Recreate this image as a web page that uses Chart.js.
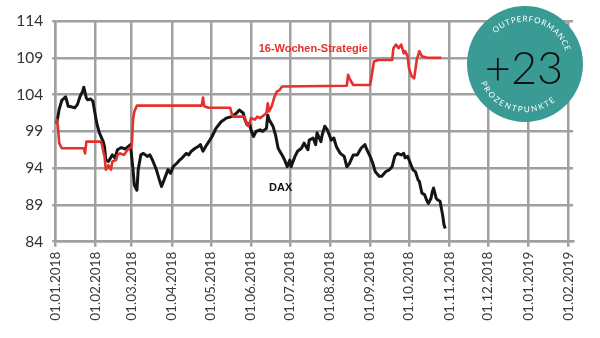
<!DOCTYPE html>
<html>
<head>
<meta charset="utf-8">
<script src="https://cdn.jsdelivr.net/npm/chart.js@4/dist/chart.umd.min.js"></script>
<style>
html,body{margin:0;padding:0;background:#fff;}
#wrap{width:600px;height:338px;position:relative;}
</style>
</head>
<body>
<div id="wrap"><canvas id="c" width="600" height="338"></canvas></div>
<script>
// ---- data ----
const baseDate = '2018-01-01';
const tickDates = ['2018-01-01','2018-02-01','2018-03-01','2018-04-01','2018-05-01','2018-06-01','2018-07-01','2018-08-01','2018-09-01','2018-10-01','2018-11-01','2018-12-01','2019-01-01','2019-02-01'];
const tickLabels = ['01.01.2018','01.02.2018','01.03.2018','01.04.2018','01.05.2018','01.06.2018','01.07.2018','01.08.2018','01.09.2018','01.10.2018','01.11.2018','01.12.2018','01.01.2019','01.02.2019'];
const yTicks = [84, 89, 94, 99, 104, 109, 114];

const daxDates = ['2018-01-02','2018-01-04','2018-01-06','2018-01-09','2018-01-11','2018-01-14','2018-01-16','2018-01-18','2018-01-20','2018-01-22','2018-01-23','2018-01-25','2018-01-26','2018-01-28','2018-01-30','2018-02-02','2018-02-04','2018-02-07','2018-02-08','2018-02-09','2018-02-11','2018-02-14','2018-02-16','2018-02-18','2018-02-21','2018-02-24','2018-02-26','2018-02-28','2018-03-02','2018-03-03','2018-03-05','2018-03-06','2018-03-08','2018-03-10','2018-03-13','2018-03-15','2018-03-17','2018-03-20','2018-03-22','2018-03-24','2018-03-26','2018-03-29','2018-03-31','2018-04-02','2018-04-05','2018-04-07','2018-04-09','2018-04-12','2018-04-14','2018-04-16','2018-04-19','2018-04-21','2018-04-23','2018-04-25','2018-04-28','2018-05-02','2018-05-05','2018-05-09','2018-05-13','2018-05-17','2018-05-21','2018-05-23','2018-05-26','2018-05-27','2018-05-29','2018-05-31','2018-06-01','2018-06-03','2018-06-05','2018-06-08','2018-06-10','2018-06-13','2018-06-14','2018-06-15','2018-06-18','2018-06-20','2018-06-22','2018-06-25','2018-06-27','2018-06-29','2018-07-01','2018-07-02','2018-07-05','2018-07-07','2018-07-10','2018-07-12','2018-07-15','2018-07-16','2018-07-19','2018-07-21','2018-07-22','2018-07-25','2018-07-26','2018-07-28','2018-07-30','2018-08-02','2018-08-04','2018-08-06','2018-08-09','2018-08-12','2018-08-14','2018-08-16','2018-08-19','2018-08-22','2018-08-25','2018-08-28','2018-08-29','2018-09-01','2018-09-03','2018-09-05','2018-09-08','2018-09-10','2018-09-13','2018-09-16','2018-09-18','2018-09-20','2018-09-22','2018-09-25','2018-09-27','2018-09-28','2018-09-30','2018-10-02','2018-10-04','2018-10-06','2018-10-08','2018-10-09','2018-10-11','2018-10-13','2018-10-15','2018-10-16','2018-10-18','2018-10-19','2018-10-20','2018-10-22','2018-10-23','2018-10-25','2018-10-26','2018-10-27','2018-10-28','2018-10-29'];
const daxValues = [100.0,102.0,103.2,103.7,102.4,102.3,102.2,102.6,103.7,104.4,105.0,103.5,103.3,103.4,103.1,100.1,98.8,97.6,96.9,95.1,94.9,95.8,95.4,96.5,96.8,96.6,96.9,97.2,93.8,91.7,91.0,93.8,95.8,96.0,95.6,95.8,95.1,93.8,92.6,91.5,92.4,93.8,93.3,94.2,94.7,95.1,95.4,96.0,95.8,96.3,96.7,96.9,97.2,96.3,97.2,98.3,99.4,100.3,100.8,101.0,101.5,101.9,101.5,100.8,99.9,100.1,99.2,98.3,99.0,99.2,99.0,99.4,101.2,100.6,99.7,98.5,96.7,95.8,95.1,94.2,95.1,94.2,95.6,96.3,96.7,97.4,96.5,97.8,98.1,97.2,98.8,97.6,98.5,99.7,99.2,97.8,98.1,96.9,96.0,95.6,94.2,94.6,95.8,95.8,96.7,97.2,96.7,95.6,94.7,93.5,92.9,92.9,93.5,93.8,94.2,95.6,96.0,95.8,96.0,95.4,95.6,94.7,93.8,93.5,92.4,92.2,90.6,90.4,89.5,89.2,89.9,90.8,91.3,89.9,89.7,89.5,88.5,87.6,86.3,85.8];

const stratDates = ['2018-01-01','2018-01-02','2018-01-03','2018-01-04','2018-01-06','2018-01-23','2018-01-24','2018-01-25','2018-02-05','2018-02-06','2018-02-07','2018-02-08','2018-02-09','2018-02-10','2018-02-11','2018-02-13','2018-02-14','2018-02-17','2018-02-18','2018-02-20','2018-02-23','2018-02-25','2018-02-27','2018-03-01','2018-03-02','2018-03-03','2018-03-05','2018-04-24','2018-04-25','2018-04-26','2018-04-29','2018-05-16','2018-05-17','2018-05-18','2018-05-27','2018-05-29','2018-05-30','2018-05-31','2018-06-01','2018-06-04','2018-06-06','2018-06-08','2018-06-11','2018-06-13','2018-06-14','2018-06-15','2018-06-17','2018-06-19','2018-06-21','2018-06-23','2018-06-25','2018-08-14','2018-08-15','2018-08-16','2018-08-19','2018-09-01','2018-09-04','2018-09-07','2018-09-18','2018-09-19','2018-09-21','2018-09-23','2018-09-25','2018-09-27','2018-09-28','2018-09-30','2018-10-01','2018-10-03','2018-10-05','2018-10-07','2018-10-09','2018-10-11','2018-10-15','2018-10-26'];
const stratValues = [100.3,100.6,99.7,97.4,96.7,96.7,96.0,97.6,97.6,97.2,96.3,95.6,93.8,94.0,94.4,93.8,94.9,95.1,95.8,96.0,95.8,96.3,96.7,96.9,100.6,101.7,102.5,102.5,103.6,102.4,102.2,102.2,101.5,101.0,101.0,99.9,99.7,100.1,100.8,100.6,101.0,100.8,101.2,101.5,102.8,101.7,102.4,103.6,104.4,104.6,105.1,105.2,106.7,106.2,105.3,105.3,108.5,108.7,108.7,110.3,110.8,110.3,110.8,109.6,109.9,109.2,107.6,106.5,106.2,108.7,109.9,109.2,109.0,109.0];

const seriesLabels = ['16-Wochen-Strategie', 'DAX'];
const seriesLabelDates = ['2018-06-07', '2018-06-15'];
const seriesLabelValues = [110.2, 91.3];
const badgeTop = 'OUTPERFORMANCE';
const badgeValue = '+23';
const badgeBottom = 'PROZENTPUNKTE';

// ---- helpers ----
function dayOf(s) {
  const p = s.split('-').map(Number);
  const b = baseDate.split('-').map(Number);
  return (Date.UTC(p[0], p[1]-1, p[2]) - Date.UTC(b[0], b[1]-1, b[2])) / 86400000;
}
const tickDays = tickDates.map(dayOf);
const daxPts = daxDates.map((d, i) => ({x: dayOf(d), y: daxValues[i]}));
const stratPts = stratDates.map((d, i) => ({x: dayOf(d), y: stratValues[i]}));

const RED = '#e6302c';
const GRID = '#a0a0a0';

const labelPlugin = {
  id: 'labels',
  afterDatasetsDraw(chart) {
    const ctx = chart.ctx, xs = chart.scales.x, ys = chart.scales.y;
    ctx.save();
    ctx.textBaseline = 'middle';
    ctx.textAlign = 'left';
    const colors = [RED, '#111'];
    seriesLabels.forEach((t, i) => {
      ctx.fillStyle = colors[i];
      ctx.font = 'bold 11px "Liberation Sans", Arial, sans-serif';
      ctx.fillText(t, xs.getPixelForValue(dayOf(seriesLabelDates[i])), ys.getPixelForValue(seriesLabelValues[i]));
    });
    ctx.restore();
  },
  afterDraw(chart) {
    const ctx = chart.ctx;
    const cx = 525, cy = 64, r = 58;
    ctx.save();
    ctx.beginPath();
    ctx.arc(cx, cy, r, 0, Math.PI * 2);
    ctx.fillStyle = '#3a9b94';
    ctx.fill();
    // value
    ctx.fillStyle = '#111';
    ctx.font = '300 45px Lato, sans-serif';
    ctx.textAlign = 'center';
    ctx.textBaseline = 'middle';
    ctx.fillText(badgeValue, cx - 1, cy + 5);
    // arc texts
    ctx.fillStyle = '#ffffff';
    ctx.font = '8px Lato, sans-serif';
    const rot = 14 * Math.PI / 180;
    const sp = 0.8;
    function width(t) {
      let w = 0; for (const ch of t) w += ctx.measureText(ch).width + sp; return w - sp;
    }
    // top text (clockwise)
    let R1 = 42.5;
    let total = width(badgeTop) / R1;
    let a = -Math.PI / 2 + rot - total / 2;
    for (const ch of badgeTop) {
      const cw = ctx.measureText(ch).width;
      const am = a + (cw / 2) / R1;
      ctx.save();
      ctx.translate(cx + R1 * Math.cos(am), cy + R1 * Math.sin(am));
      ctx.rotate(am + Math.PI / 2);
      ctx.textBaseline = 'alphabetic';
      ctx.fillText(ch, 0, 0);
      ctx.restore();
      a += (cw + sp) / R1;
    }
    // bottom text (counter-clockwise, upright)
    let R2 = 41.5;
    total = width(badgeBottom) / R2;
    a = Math.PI / 2 + rot + total / 2;
    for (const ch of badgeBottom) {
      const cw = ctx.measureText(ch).width;
      const am = a - (cw / 2) / R2;
      ctx.save();
      ctx.translate(cx + R2 * Math.cos(am), cy + R2 * Math.sin(am));
      ctx.rotate(am - Math.PI / 2);
      ctx.textBaseline = 'top';
      ctx.fillText(ch, 0, 0);
      ctx.restore();
      a -= (cw + sp) / R2;
    }
    ctx.restore();
  }
};

new Chart(document.getElementById('c'), {
  type: 'line',
  data: {
    datasets: [
      {label: seriesLabels[0], data: stratPts, borderColor: RED, borderWidth: 2.6, pointRadius: 0, tension: 0, order: 0, borderJoinStyle: 'round'},
      {label: seriesLabels[1], data: daxPts, borderColor: '#151515', borderWidth: 3, pointRadius: 0, tension: 0, order: 1, borderJoinStyle: 'round'}
    ]
  },
  options: {
    responsive: false,
    animation: false,
    layout: {padding: {top: 21, right: 27, left: 0, bottom: 0}},
    plugins: {legend: {display: false}, tooltip: {enabled: false}},
    scales: {
      x: {
        type: 'linear',
        min: 0,
        max: 399.6,
        afterBuildTicks: s => { s.ticks = tickDays.map(v => ({value: v})); },
        afterFit: s => { s.height = 96.3; },
        grid: {color: GRID, lineWidth: 2.5, tickLength: 5, drawTicks: true},
        border: {color: GRID, width: 2.5},
        ticks: {
          autoSkip: false, minRotation: 90, maxRotation: 90, padding: 5,
          color: '#3a3a3a',
          font: {family: 'Lato', size: 13.5, weight: '400'},
          callback: (v, i) => tickLabels[i]
        }
      },
      y: {
        min: 84, max: 114,
        afterBuildTicks: s => { s.ticks = yTicks.map(v => ({value: v})); },
        afterFit: s => { s.width = 55.3; },
        grid: {color: GRID, lineWidth: 2.5, tickLength: 3},
        border: {color: GRID, width: 2.5},
        ticks: {
          padding: 9, color: '#333',
          font: {family: 'Lato', size: 15.5, weight: '400'},
          callback: (v, i) => String(yTicks[i])
        }
      }
    }
  },
  plugins: [labelPlugin]
});
</script>
</body>
</html>
